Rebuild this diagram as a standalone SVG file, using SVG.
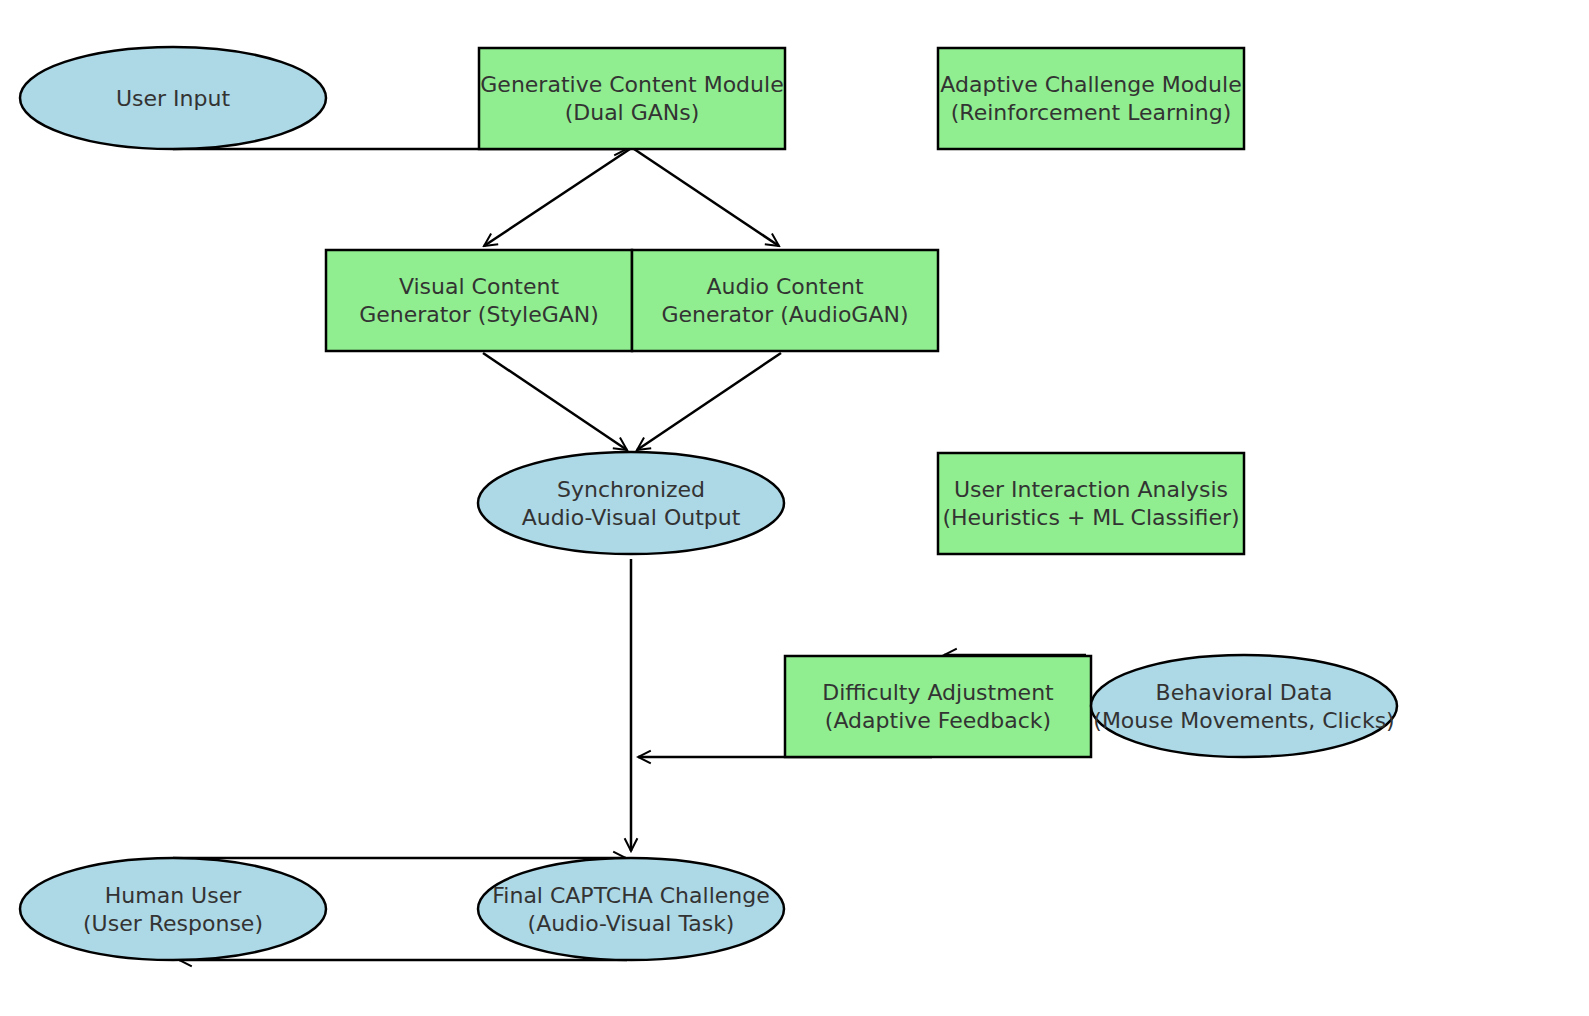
<svg xmlns="http://www.w3.org/2000/svg" width="1589" height="1016" viewBox="0 0 1589 1016">
<defs>
<style>
.box{fill:#90ee90;stroke:#000;stroke-width:2.5}
.ell{fill:#add8e6;stroke:#000;stroke-width:2.5}
text{font-family:"DejaVu Sans",sans-serif;font-size:22px;fill:#333;text-anchor:middle}
.c{stroke:#000;stroke-width:2.5;fill:none;marker-end:url(#a)}
</style>
<marker id="a" viewBox="0 0 20 20" refX="18" refY="10" markerWidth="16" markerHeight="16" markerUnits="userSpaceOnUse" orient="auto">
<path d="M2,2 L18,10 L2,18" fill="none" stroke="#000" stroke-width="2.5"/>
</marker>
</defs>
<rect width="1589" height="1016" fill="#fff"/>
<g id="connectors">
<path class="c" d="M173,149 H627"/>
<path class="c" d="M630,149 L484,246"/>
<path class="c" d="M634,149 L779,246"/>
<path class="c" d="M483,353 L627,450"/>
<path class="c" d="M781,353 L637,450"/>
<path class="c" d="M631,559 V851"/>
<path class="c" d="M1090,550 V460"/>
<path class="c" d="M1086,655 H944"/>
<path class="c" d="M932,757 H638"/>
<path class="c" d="M173,858 H626"/>
<path class="c" d="M627,960 H179"/>
</g>
<g id="userInput"><ellipse class="ell" cx="173" cy="98" rx="153" ry="51"/><text x="173" y="106">User Input</text></g>
<g id="gen"><rect class="box" x="479" y="48" width="306" height="101"/><text x="632" y="92">Generative Content Module</text><text x="632" y="120">(Dual GANs)</text></g>
<g id="adaptive"><rect class="box" x="938" y="48" width="306" height="101"/><text x="1091" y="92">Adaptive Challenge Module</text><text x="1091" y="120">(Reinforcement Learning)</text></g>
<g id="visual"><rect class="box" x="326" y="250" width="306" height="101"/><text x="479" y="294">Visual Content</text><text x="479" y="322">Generator (StyleGAN)</text></g>
<g id="audio"><rect class="box" x="632" y="250" width="306" height="101"/><text x="785" y="294">Audio Content</text><text x="785" y="322">Generator (AudioGAN)</text></g>
<g id="sync"><ellipse class="ell" cx="631" cy="503" rx="153" ry="51"/><text x="631" y="497">Synchronized</text><text x="631" y="525">Audio-Visual Output</text></g>
<g id="uia"><rect class="box" x="938" y="453" width="306" height="101"/><text x="1091" y="497">User Interaction Analysis</text><text x="1091" y="525">(Heuristics + ML Classifier)</text></g>
<g id="diff"><rect class="box" x="785" y="656" width="306" height="101"/><text x="938" y="700">Difficulty Adjustment</text><text x="938" y="728">(Adaptive Feedback)</text></g>
<g id="behav"><ellipse class="ell" cx="1244" cy="706" rx="153" ry="51"/><text x="1244" y="700">Behavioral Data</text><text x="1244" y="728">(Mouse Movements, Clicks)</text></g>
<g id="human"><ellipse class="ell" cx="173" cy="909" rx="153" ry="51"/><text x="173" y="903">Human User</text><text x="173" y="931">(User Response)</text></g>
<g id="final"><ellipse class="ell" cx="631" cy="909" rx="153" ry="51"/><text x="631" y="903">Final CAPTCHA Challenge</text><text x="631" y="931">(Audio-Visual Task)</text></g>
</svg>
